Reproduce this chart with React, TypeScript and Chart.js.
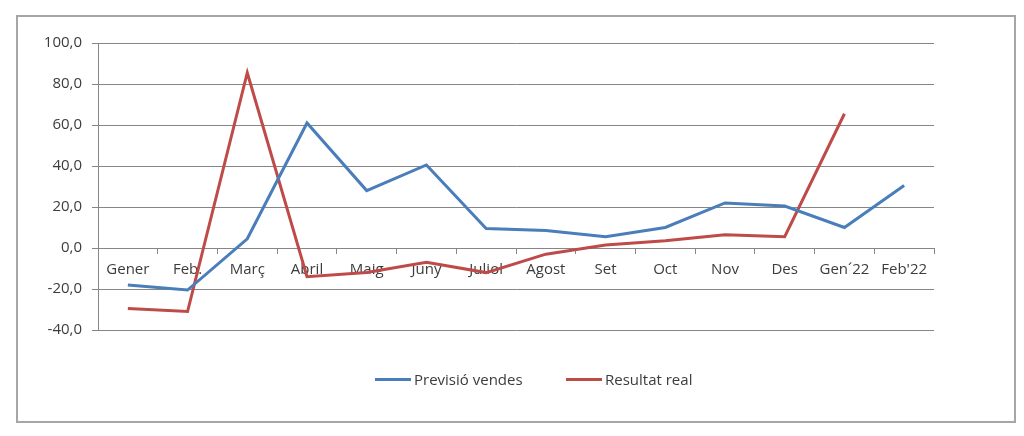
import React, { useEffect, useRef } from "react";
import { Chart, registerables } from "chart.js";

Chart.register(...registerables);

const categories = ["Gener", "Feb.", "Març", "Abril", "Maig", "Juny", "Juliol", "Agost", "Set", "Oct", "Nov", "Des", "Gen´22", "Feb'22"];
const previsioVendes = [-18, -20.5, 4.5, 61, 28, 40.5, 9.5, 8.5, 5.5, 10, 22, 20.5, 10, 30.5];
const resultatReal = [-29.5, -31, 85.5, -14, -12, -7, -12, -3, 1.5, 3.5, 6.5, 5.5, 65.5, null];
const seriesNames = ["Previsió vendes", "Resultat real"];
const yMin = -40;
const yMax = 100;
const yStep = 20;

const BLUE = "#4a7ebb";
const RED = "#be4b48";
const GRID = "#868686";
const TEXT = "#3c3c3c";
const FONT = "'Open Sans', sans-serif";

export default function App() {
  const ref = useRef<HTMLCanvasElement>(null);

  useEffect(() => {
    if (!ref.current) return;
    const chart = new Chart(ref.current, {
      type: "line",
      data: {
        labels: categories,
        datasets: [
          { label: seriesNames[0], data: previsioVendes, borderColor: BLUE, backgroundColor: BLUE, borderWidth: 3, pointRadius: 0, tension: 0 },
          { label: seriesNames[1], data: resultatReal, borderColor: RED, backgroundColor: RED, borderWidth: 3, pointRadius: 0, tension: 0 },
        ],
      },
      options: {
        animation: false,
        responsive: false,
        maintainAspectRatio: false,
        layout: { padding: { top: 26, right: 80, bottom: 91, left: 0 } },
        plugins: { legend: { display: false }, tooltip: { enabled: false } },
        font: { family: FONT },
        scales: {
          x: {
            position: { y: 0 } as any,
            offset: true,
            grid: { display: true, drawOnChartArea: false, drawTicks: true, tickLength: 5, color: GRID, offset: true },
            border: { display: true, color: GRID, width: 1 },
            ticks: { color: TEXT, font: { family: FONT, size: 15 }, padding: 8, maxRotation: 0, autoSkip: false },
            afterFit: (s: any) => { s.height = 0; },
          },
          y: {
            min: yMin,
            max: yMax,
            ticks: {
              stepSize: yStep,
              color: TEXT,
              font: { family: FONT, size: 15 },
              padding: 10,
              callback: (v: any) => Number(v).toFixed(1).replace(".", ","),
            },
            grid: { color: GRID, tickLength: 6, drawTicks: true },
            border: { display: true, color: GRID, width: 1 },
            afterFit: (s: any) => { s.width = 80; },
          },
        },
      } as any,
    });
    return () => chart.destroy();
  }, []);

  const legendItem = (color: string, text: string, left: number) => (
    <div style={{ position: "absolute", left, top: 369, height: 20, display: "flex", alignItems: "center" }}>
      <div style={{ width: 36, height: 3, background: color }} />
      <span style={{ marginLeft: 3, fontFamily: FONT, fontSize: 15, color: TEXT, lineHeight: "20px", whiteSpace: "nowrap" }}>{text}</span>
    </div>
  );

  return (
    <div style={{ position: "absolute", left: 0, top: 0, width: 1024, height: 436, background: "#fff" }}>
      <div style={{ position: "absolute", left: 16, top: 15, width: 1000, height: 408, border: "2px solid #a6a6a6", boxSizing: "border-box" }}>
        <canvas ref={ref} width={996} height={404} style={{ display: "block", width: 996, height: 404 }} />
      </div>
      {legendItem(BLUE, seriesNames[0], 375)}
      {legendItem(RED, seriesNames[1], 566)}
    </div>
  );
}
